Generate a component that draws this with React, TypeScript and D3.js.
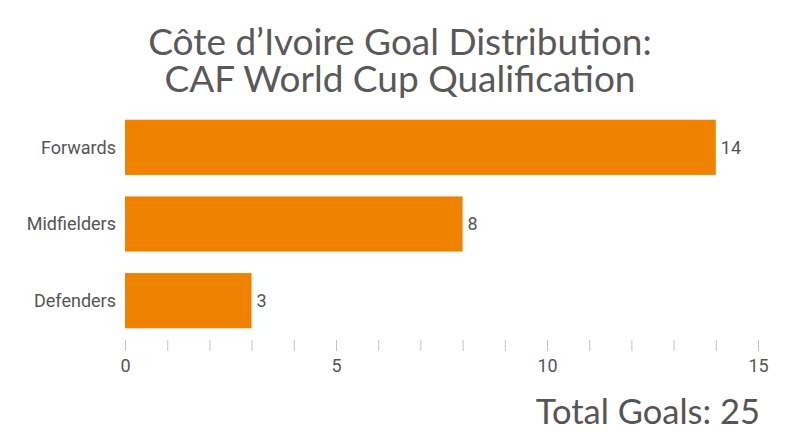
import * as d3 from "d3";
import { useEffect, useRef } from "react";

const categories = ["Forwards", "Midfielders", "Defenders"];
const goals = [14, 8, 3];
const titleLines = ["Côte d’Ivoire Goal Distribution:", "CAF World Cup Qualification"];
const xTickLabels = [0, 5, 10, 15];
const totalLabel = "Total Goals: 25";

const width = 800;
const height = 447;

export default function App() {
  const ref = useRef<SVGSVGElement | null>(null);

  useEffect(() => {
    const svg = d3.select(ref.current);
    svg.selectAll("*").remove();

    const x = d3.scaleLinear().domain([0, 15]).range([125, 758]);
    const y = d3
      .scaleBand<string>()
      .domain(categories)
      .range([109, 339])
      .paddingInner(0.28)
      .paddingOuter(0.14);

    // title
    svg
      .append("text")
      .attr("text-anchor", "middle")
      .attr("font-family", "Lato")
      .attr("font-size", 37)
      .attr("fill", "#595959")
      .selectAll("tspan")
      .data(titleLines)
      .join("tspan")
      .attr("x", 400)
      .attr("y", (_, i) => 55 + i * 37)
      .text((d) => d);

    // bars
    svg
      .append("g")
      .selectAll("rect")
      .data(categories)
      .join("rect")
      .attr("x", x(0))
      .attr("y", (d) => y(d)!)
      .attr("width", (_, i) => x(goals[i]) - x(0))
      .attr("height", y.bandwidth())
      .attr("fill", "#EF8200");

    // value labels
    svg
      .append("g")
      .selectAll("text")
      .data(categories)
      .join("text")
      .attr("x", (_, i) => x(goals[i]) + 5)
      .attr("y", (d) => y(d)! + y.bandwidth() / 2)
      .attr("dy", "0.35em")
      .attr("font-family", "Roboto")
      .attr("font-size", 18)
      .attr("fill", "#555")
      .text((_, i) => goals[i]);

    // category labels
    svg
      .append("g")
      .selectAll("text")
      .data(categories)
      .join("text")
      .attr("x", 116)
      .attr("y", (d) => y(d)! + y.bandwidth() / 2)
      .attr("dy", "0.35em")
      .attr("text-anchor", "end")
      .attr("font-family", "Roboto")
      .attr("font-size", 18)
      .attr("fill", "#555")
      .text((d) => d);

    // x axis
    const axis = svg
      .append("g")
      .attr("transform", "translate(0,340)")
      .call(
        d3
          .axisBottom(x)
          .tickValues(d3.range(0, 16))
          .tickSize(11)
          .tickPadding(8)
          .tickFormat((d) => (xTickLabels.includes(+d) ? String(d) : ""))
      );
    axis.select(".domain").remove();
    axis.selectAll(".tick line").attr("stroke", "#c4c4c4");
    axis
      .selectAll(".tick text")
      .attr("font-family", "Roboto")
      .attr("font-size", 18)
      .attr("fill", "#555");

    // total
    svg
      .append("text")
      .attr("x", 760)
      .attr("y", 424)
      .attr("text-anchor", "end")
      .attr("font-family", "Lato")
      .attr("font-size", 34.5)
      .attr("fill", "#555")
      .text(totalLabel);
  }, []);

  return (
    <svg
      ref={ref}
      width={width}
      height={height}
      style={{ position: "absolute", left: 0, top: 0, background: "#fff" }}
    />
  );
}
